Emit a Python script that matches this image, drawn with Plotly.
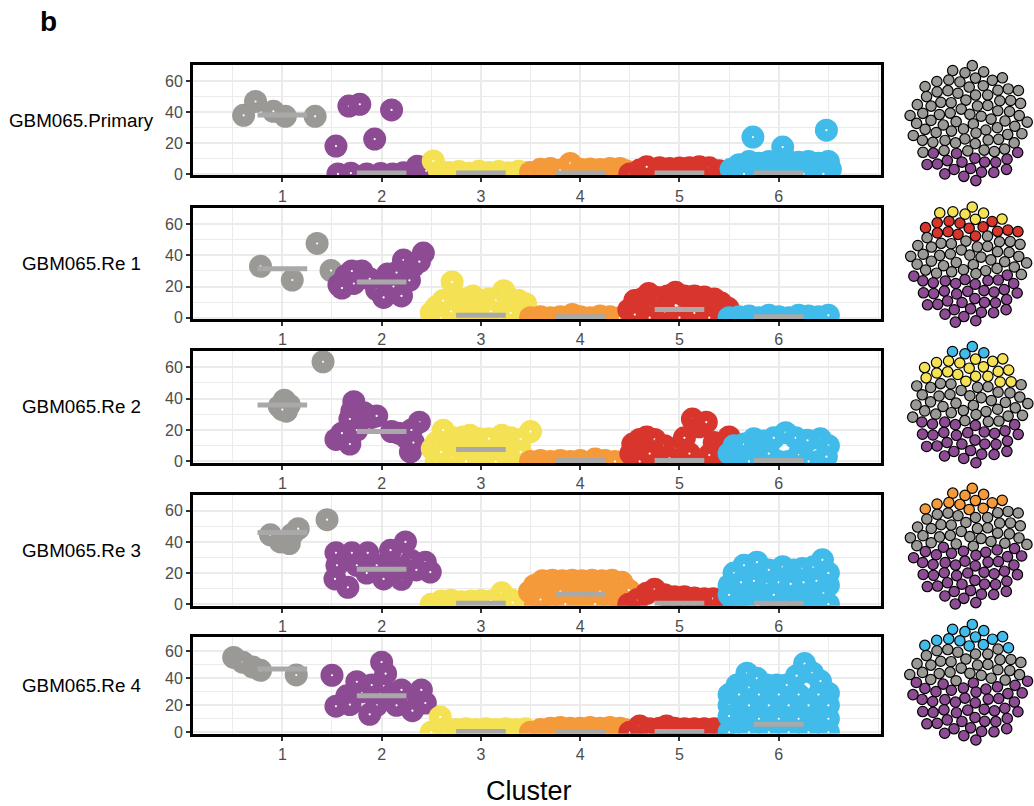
import math
import plotly.graph_objects as go

W, H = 1034, 806

# ---------------- data ----------------
clusters = [1, 2, 3, 4, 5, 6]
cluster_labels = ["1", "2", "3", "4", "5", "6"]
cluster_colors = ["#9A9995", "#8C4B93", "#F5E154", "#F59A3B", "#D8362D", "#41BBEA"]
samples = ["GBM065.Primary", "GBM065.Re 1", "GBM065.Re 2", "GBM065.Re 3", "GBM065.Re 4"]
y_ticks = [0, 20, 40, 60]

# (cluster, jitter offset, value)
primary_cells = [
    (1, -0.39, 38.0), (1, -0.27, 47.0), (1, -0.09, 40.6), (1, 0.03, 37.4), (1, 0.33, 37.4),
    (2, -0.44, 0.0), (2, -0.31, 0.5), (2, -0.15, 0.0), (2, -0.01, 0.3), (2, 0.11, 0.0), (2, 0.22, 0.8),
    (2, 0.36, 5.0), (2, 0.45, 2.0),
    (2, -0.33, 44.0), (2, -0.22, 45.2), (2, 0.10, 41.5), (2, -0.46, 18.1), (2, -0.07, 22.6),
    (3, -0.42, 2.0), (3, -0.32, 1.0), (3, -0.22, 1.5), (3, -0.12, 0.5), (3, -0.02, 1.8), (3, 0.08, 1.0),
    (3, 0.18, 1.6), (3, 0.28, 0.8), (3, 0.38, 1.8), (3, 0.46, 1.0), (3, -0.48, 8.4),
    (4, -0.50, 1.0), (4, -0.40, 3.0), (4, -0.30, 3.5), (4, -0.20, 2.5), (4, -0.10, 6.8), (4, 0.00, 3.0),
    (4, 0.10, 3.2), (4, 0.20, 2.8), (4, 0.30, 3.5), (4, 0.40, 3.6), (4, 0.46, 2.0),
    (5, -0.50, 0.0), (5, -0.40, 2.5), (5, -0.33, 4.6), (5, -0.20, 4.0), (5, -0.10, 3.5), (5, 0.00, 3.8),
    (5, 0.10, 4.0), (5, 0.20, 4.6), (5, 0.30, 4.0), (5, 0.40, 2.0), (5, 0.48, 1.0),
    (6, -0.26, 23.9), (6, 0.04, 17.4), (6, 0.48, 28.4),
    (6, -0.48, 3.0), (6, -0.40, 6.0), (6, -0.30, 8.0), (6, -0.20, 7.0), (6, -0.10, 8.0), (6, 0.00, 6.0),
    (6, 0.10, 8.0), (6, 0.20, 7.5), (6, 0.30, 8.0), (6, 0.40, 7.0), (6, 0.50, 8.0), (6, 0.52, 3.0),
    (6, -0.35, 0.0), (6, -0.15, 0.0), (6, 0.05, 0.0), (6, 0.25, 0.0), (6, 0.45, 0.0),
]
re1_cells = [
    (1, -0.22, 33.0), (1, 0.35, 47.7), (1, 0.10, 24.2), (1, 0.49, 30.3),
    (2, -0.43, 21.0), (2, -0.36, 27.0), (2, -0.28, 22.0), (2, -0.20, 30.0), (2, -0.12, 25.0), (2, -0.05, 18.0),
    (2, 0.02, 13.0), (2, 0.06, 28.0), (2, 0.12, 20.0), (2, 0.20, 14.0), (2, 0.22, 37.0), (2, 0.28, 24.0),
    (2, 0.32, 33.0), (2, 0.42, 41.5), (2, 0.38, 36.0), (2, -0.30, 30.0), (2, 0.15, 29.0), (2, -0.40, 19.0),
    (3, -0.50, 3.0), (3, -0.45, 7.0), (3, -0.38, 11.0), (3, -0.29, 23.0), (3, -0.22, 12.0), (3, -0.15, 11.0),
    (3, -0.08, 14.0), (3, 0.00, 11.0), (3, 0.08, 12.0), (3, 0.15, 11.0), (3, 0.23, 17.3), (3, 0.30, 12.0),
    (3, 0.38, 11.0), (3, 0.45, 9.0), (3, 0.47, 3.0),
    (3, -0.40, 0.0), (3, -0.25, 0.0), (3, -0.10, 1.0), (3, 0.05, 0.0), (3, 0.20, 0.0), (3, 0.35, 1.0),
    (3, -0.30, 4.0), (3, 0.10, 4.0), (3, 0.30, 3.0),
    (4, -0.50, 0.0), (4, -0.40, 0.5), (4, -0.30, 0.0), (4, -0.20, 0.5), (4, -0.08, 2.0), (4, 0.00, 0.5),
    (4, 0.10, 0.0), (4, 0.20, 1.0), (4, 0.30, 0.5), (4, 0.40, 0.0),
    (5, -0.51, 5.0), (5, -0.45, 11.0), (5, -0.38, 12.0), (5, -0.31, 15.5), (5, -0.22, 13.0), (5, -0.12, 14.0),
    (5, -0.04, 16.3), (5, 0.05, 14.0), (5, 0.15, 14.0), (5, 0.25, 13.3), (5, 0.35, 12.0), (5, 0.42, 9.4),
    (5, 0.49, 6.0),
    (5, -0.45, 2.0), (5, -0.30, 0.0), (5, -0.15, 4.0), (5, 0.00, 0.0), (5, 0.15, 3.0), (5, 0.30, 0.0),
    (5, 0.45, 1.0),
    (6, -0.50, 0.0), (6, -0.40, 0.5), (6, -0.30, 1.0), (6, -0.20, 0.0), (6, -0.10, 1.5), (6, 0.00, 0.5),
    (6, 0.10, 0.0), (6, 0.20, 1.5), (6, 0.30, 1.0), (6, 0.40, 0.5), (6, 0.50, 1.5),
]
re2_cells = [
    (1, -0.03, 35.0), (1, 0.02, 39.0), (1, 0.07, 36.0), (1, 0.04, 32.0), (1, 0.00, 33.0), (1, 0.41, 63.5),
    (2, -0.28, 38.0), (2, -0.30, 32.0), (2, -0.32, 27.0), (2, -0.18, 31.0), (2, -0.10, 28.0), (2, -0.05, 29.0),
    (2, -0.46, 14.0), (2, -0.40, 18.0), (2, -0.32, 11.0), (2, -0.25, 20.0), (2, 0.10, 19.0), (2, 0.17, 18.0),
    (2, 0.25, 15.0), (2, 0.38, 25.0), (2, 0.30, 20.0), (2, 0.29, 6.0), (2, 0.32, 12.0),
    (3, -0.49, 8.0), (3, -0.45, 12.0), (3, -0.38, 19.9), (3, -0.28, 15.0), (3, -0.18, 15.5), (3, -0.11, 16.6),
    (3, -0.02, 14.4), (3, 0.08, 14.5), (3, 0.21, 16.6), (3, 0.30, 15.0), (3, 0.40, 14.0), (3, 0.50, 19.0),
    (3, -0.45, 0.0), (3, -0.30, 3.0), (3, -0.15, 0.0), (3, 0.00, 5.0), (3, 0.15, 0.0), (3, 0.30, 4.0),
    (3, 0.45, 0.0), (3, -0.40, 6.0), (3, 0.20, 7.0), (3, -0.05, 8.0), (3, 0.40, 6.0),
    (4, -0.50, 0.0), (4, -0.40, 0.5), (4, -0.30, 0.0), (4, -0.20, 0.5), (4, -0.10, 0.0), (4, 0.00, 0.5),
    (4, 0.15, 1.5), (4, 0.25, 0.5), (4, 0.35, 0.0),
    (5, -0.49, 5.0), (5, -0.47, 11.0), (5, -0.40, 14.0), (5, -0.33, 15.6), (5, -0.25, 14.0), (5, -0.15, 10.0),
    (5, -0.05, 8.0), (5, 0.05, 15.0), (5, 0.13, 27.0), (5, 0.20, 22.0), (5, 0.27, 25.0), (5, 0.35, 12.0),
    (5, 0.45, 10.0), (5, 0.50, 15.6),
    (5, -0.40, 0.0), (5, -0.20, 0.0), (5, 0.00, 0.0), (5, 0.20, 0.0), (5, 0.40, 0.0), (5, -0.30, 5.0),
    (5, 0.10, 5.0), (5, 0.30, 4.0), (5, -0.10, 2.0), (5, 0.45, 3.0),
    (6, -0.50, 5.0), (6, -0.45, 10.0), (6, -0.35, 11.0), (6, -0.25, 14.4), (6, -0.15, 13.0), (6, -0.05, 15.0),
    (6, 0.07, 18.3), (6, 0.17, 15.0), (6, 0.29, 13.4), (6, 0.42, 14.4), (6, 0.50, 10.0),
    (6, -0.40, 0.0), (6, -0.20, 3.0), (6, 0.00, 0.0), (6, 0.20, 4.0), (6, 0.40, 0.0), (6, -0.30, 0.0),
    (6, 0.10, 0.0), (6, 0.30, 0.0), (6, -0.10, 5.0), (6, 0.48, 3.0),
]
re3_cells = [
    (1, -0.12, 44.6), (1, -0.02, 40.0), (1, 0.07, 39.0), (1, 0.10, 45.0), (1, 0.16, 48.5), (1, 0.45, 54.3),
    (2, -0.46, 33.0), (2, -0.30, 33.0), (2, -0.14, 33.0), (2, 0.09, 34.7), (2, 0.24, 40.0), (2, 0.44, 27.0),
    (2, 0.49, 20.6), (2, -0.47, 16.2), (2, -0.34, 10.8), (2, 0.02, 16.2), (2, 0.20, 16.0),
    (2, -0.45, 25.0), (2, -0.25, 25.0), (2, -0.05, 25.0), (2, 0.10, 26.0), (2, 0.30, 28.0), (2, 0.35, 22.0),
    (2, -0.15, 20.0), (2, 0.15, 22.0),
    (3, -0.50, 0.0), (3, -0.40, 2.0), (3, -0.30, 2.5), (3, -0.20, 1.5), (3, -0.10, 2.0), (3, 0.00, 2.4),
    (3, 0.10, 2.0), (3, 0.21, 7.3), (3, 0.30, 3.0), (3, 0.32, 1.0),
    (4, -0.51, 8.0), (4, -0.46, 12.0), (4, -0.38, 15.0), (4, -0.28, 15.4), (4, -0.18, 15.0), (4, -0.08, 15.4),
    (4, 0.02, 15.0), (4, 0.12, 15.4), (4, 0.22, 15.0), (4, 0.32, 15.4), (4, 0.42, 14.0), (4, 0.49, 9.0),
    (4, -0.45, 0.0), (4, -0.30, 5.0), (4, -0.15, 0.0), (4, 0.00, 6.0), (4, 0.15, 0.0), (4, 0.30, 5.0),
    (4, 0.45, 0.0), (4, -0.20, 8.0), (4, 0.20, 8.0), (4, -0.40, 3.0), (4, 0.40, 3.0),
    (5, -0.51, 0.0), (5, -0.42, 3.0), (5, -0.33, 7.0), (5, -0.25, 9.5), (5, -0.15, 6.0), (5, -0.05, 4.7),
    (5, 0.05, 4.7), (5, 0.15, 4.0), (5, 0.25, 3.5), (5, 0.34, 3.5), (5, 0.45, 2.0),
    (6, -0.45, 20.0), (6, -0.35, 25.0), (6, -0.22, 27.0), (6, -0.10, 22.0), (6, 0.04, 24.0), (6, 0.15, 22.0),
    (6, 0.24, 23.0), (6, 0.35, 24.0), (6, 0.44, 28.5), (6, 0.50, 20.0),
    (6, -0.50, 12.0), (6, -0.38, 14.0), (6, -0.25, 15.0), (6, -0.12, 13.0), (6, 0.00, 14.0), (6, 0.12, 13.0),
    (6, 0.25, 14.0), (6, 0.38, 15.0), (6, 0.50, 12.0),
    (6, -0.45, 0.0), (6, -0.30, 5.0), (6, -0.15, 6.0), (6, 0.00, 0.0), (6, 0.15, 5.0), (6, 0.30, 3.0),
    (6, 0.45, 7.0), (6, -0.40, 4.0), (6, 0.20, 0.0), (6, -0.05, 6.0), (6, 0.40, 0.0), (6, 0.50, 0.0),
    (6, -0.50, 6.0),
]
re4_cells = [
    (1, -0.49, 55.5), (1, -0.40, 52.0), (1, -0.30, 48.5), (1, -0.22, 46.0), (1, 0.14, 42.5),
    (2, -0.20, 30.0), (2, -0.10, 35.0), (2, 0.10, 28.0), (2, 0.25, 24.0), (2, -0.05, 20.0), (2, 0.15, 20.0),
    (2, -0.35, 27.0),
    (2, -0.50, 42.3), (2, 0.00, 52.0), (2, -0.25, 37.5), (2, 0.04, 43.5), (2, 0.40, 31.4), (2, 0.20, 31.4),
    (2, -0.46, 19.3), (2, -0.32, 20.5), (2, -0.12, 13.3), (2, 0.31, 16.0), (2, 0.44, 21.7),
    (3, -0.50, 0.0), (3, -0.35, 2.5), (3, -0.25, 2.0), (3, -0.15, 2.5), (3, -0.05, 2.0), (3, 0.05, 2.5),
    (3, 0.15, 2.0), (3, 0.25, 2.5), (3, 0.35, 2.0), (3, 0.45, 2.5), (3, -0.41, 11.4),
    (4, -0.50, 0.0), (4, -0.40, 2.0), (4, -0.30, 3.0), (4, -0.20, 3.5), (4, -0.10, 3.0), (4, 0.00, 3.0),
    (4, 0.10, 3.5), (4, 0.20, 3.0), (4, 0.30, 3.5), (4, 0.40, 3.0), (4, 0.45, 2.0),
    (5, -0.50, 0.0), (5, -0.40, 4.7), (5, -0.30, 2.5), (5, -0.20, 3.0), (5, -0.13, 4.7), (5, -0.05, 3.0),
    (5, 0.05, 2.5), (5, 0.15, 2.5), (5, 0.25, 2.5), (5, 0.35, 2.5), (5, 0.45, 2.0),
    (6, -0.50, 28.0), (6, -0.42, 35.0), (6, -0.32, 43.8), (6, -0.22, 40.0), (6, -0.12, 35.0), (6, -0.02, 35.0),
    (6, 0.08, 35.0), (6, 0.18, 42.0), (6, 0.26, 51.0), (6, 0.34, 44.0), (6, 0.42, 38.0), (6, 0.50, 29.0),
    (6, -0.40, 28.0), (6, -0.20, 28.0), (6, 0.00, 28.0), (6, 0.20, 28.0), (6, 0.40, 28.0),
    (6, -0.50, 20.0), (6, -0.30, 20.0), (6, -0.10, 20.0), (6, 0.10, 20.0), (6, 0.30, 20.0), (6, 0.50, 20.0),
    (6, -0.40, 10.0), (6, -0.20, 10.0), (6, 0.00, 10.0), (6, 0.20, 10.0), (6, 0.40, 10.0),
    (6, -0.50, 0.0), (6, -0.30, 0.0), (6, -0.10, 0.0), (6, 0.10, 0.0), (6, 0.30, 0.0), (6, 0.50, 0.0),
    (6, -0.50, 12.0), (6, 0.50, 10.0),
]

medians_primary = [38.3, 0.6, 0.6, 0.6, 0.6, 0.6]
medians_re1 = [31.4, 23.0, 1.5, 0.6, 5.2, 0.6]
medians_re2 = [36.0, 19.0, 7.5, 0.6, 0.6, 0.6]
medians_re3 = [46.0, 22.5, 0.6, 6.5, 0.6, 0.6]
medians_re4 = [47.0, 27.0, 0.6, 0.6, 0.6, 6.0]

# clone composition (top to bottom) for the packed-circle diagrams
pack_clusters = [[1, 2], [3, 5, 1, 2], [6, 3, 1, 2], [4, 1, 2], [6, 1, 2]]
pack_counts = [[76, 19], [7, 14, 39, 37], [4, 20, 38, 31], [13, 36, 47], [14, 31, 49]]

all_cells = [primary_cells, re1_cells, re2_cells, re3_cells, re4_cells]
all_medians = [medians_primary, medians_re1, medians_re2, medians_re3, medians_re4]

# ---------------- layout geometry (pixels) ----------------
panel_top = [66, 210, 354, 499, 643]
panel_bot = [177, 322, 467, 611, 740]
plot_left, plot_right = 193, 881
pack_cx = 969
pack_cy = [125, 267, 409, 551, 689]
pack_radius = 60.0

FONT = "Liberation Sans, Arial, Helvetica, sans-serif"
GRID = "#EBEBEB"

fig = go.Figure()

for i in range(5):
    xa = "x" if i == 0 else f"x{i+1}"
    ya = "y" if i == 0 else f"y{i+1}"
    cells = all_cells[i]
    for ci, c in enumerate(clusters):
        xs, ys, sizes, cols = [], [], [], []
        for (cc, dx, v) in cells:
            if cc != c:
                continue
            xs += [c + dx, c + dx]
            ys += [v, v]
            sizes += [23, 2.2]
            cols += [cluster_colors[ci], "white"]
        fig.add_trace(go.Scatter(
            x=xs, y=ys, mode="markers", xaxis=xa, yaxis=ya,
            marker=dict(size=sizes, color=cols, line=dict(width=0), opacity=1),
            showlegend=False, hoverinfo="skip"))
    mx, my = [], []
    for c, m in zip(clusters, all_medians[i]):
        mx += [c - 0.25, c + 0.25, None]
        my += [m, m, None]
    fig.add_trace(go.Scatter(
        x=mx, y=my, mode="lines", xaxis=xa, yaxis=ya,
        line=dict(color="#A9A9A9", width=5), showlegend=False, hoverinfo="skip"))

    axis_common = dict(
        showline=True, mirror=True, linecolor="black", linewidth=3,
        ticks="outside", ticklen=4, tickwidth=2, tickcolor="#333333",
        tickfont=dict(family=FONT, size=16, color="#4D4D4D"),
        showgrid=True, gridcolor=GRID, gridwidth=2, zeroline=False,
        fixedrange=True,
    )
    fig.layout[f"xaxis{'' if i == 0 else i+1}"] = dict(
        axis_common, domain=[plot_left / W, plot_right / W], anchor=ya,
        range=[0.1, 7.03], tickmode="array", tickvals=clusters, ticktext=cluster_labels,
        minor=dict(dtick=0.5, tick0=0.5, showgrid=True, gridcolor=GRID, gridwidth=1.3, ticks=""),
    )
    fig.layout[f"yaxis{'' if i == 0 else i+1}"] = dict(
        axis_common, domain=[1 - panel_bot[i] / H, 1 - panel_top[i] / H], anchor=xa,
        range=[-1.0, 70.4], tickmode="array", tickvals=y_ticks,
        minor=dict(dtick=10, tick0=0, showgrid=True, gridcolor=GRID, gridwidth=1.3, ticks=""),
    )

# packed circles: sunflower (Vogel) layout, filled top to bottom by clone
golden = math.pi * (3 - math.sqrt(5))

def disc_positions(cx, cy, n, R):
    c = R / math.sqrt(n)
    pts = []
    for k in range(n):
        r = c * math.sqrt(k + 0.5)
        t = k * golden
        pts.append((cx + r * math.cos(t), cy + r * math.sin(t)))
    pts.sort(key=lambda p: (p[1], p[0]))
    return pts

for i in range(5):
    n = sum(pack_counts[i])
    pts = disc_positions(pack_cx, pack_cy[i], n, pack_radius)
    cols = []
    for cl, cnt in zip(pack_clusters[i], pack_counts[i]):
        cols += [cluster_colors[cl - 1]] * cnt
    fig.add_trace(go.Scatter(
        x=[p[0] for p in pts], y=[p[1] for p in pts], mode="markers",
        xaxis="x6", yaxis="y6",
        marker=dict(size=10.4, color=cols, line=dict(color="black", width=1.2)),
        showlegend=False, hoverinfo="skip"))

fig.layout["xaxis6"] = dict(domain=[890 / W, 1.0], range=[890, 1034], visible=False,
                            fixedrange=True, anchor="y6")
fig.layout["yaxis6"] = dict(domain=[0, 1], range=[806, 0], visible=False,
                            fixedrange=True, anchor="x6")

annotations = []
for i, s in enumerate(samples):
    yc = (panel_top[i] + panel_bot[i]) / 2
    annotations.append(dict(x=81 / W, y=1 - yc / H, xref="paper", yref="paper",
                            text=s, showarrow=False, xanchor="center", yanchor="middle",
                            font=dict(family=FONT, size=18.8, color="black")))
annotations.append(dict(x=529 / W, y=1 - 797.5 / H, xref="paper", yref="paper", text="Cluster",
                        showarrow=False, xanchor="center", yanchor="middle",
                        font=dict(family=FONT, size=27, color="black")))
annotations.append(dict(x=48 / W, y=1 - 22 / H, xref="paper", yref="paper", text="<b>b</b>",
                        showarrow=False, xanchor="center", yanchor="middle",
                        font=dict(family=FONT, size=28, color="black")))

fig.update_layout(
    width=W, height=H, margin=dict(l=0, r=0, t=0, b=0),
    paper_bgcolor="white", plot_bgcolor="white",
    annotations=annotations, hovermode=False, showlegend=False,
    font=dict(family=FONT),
)

fig.write_html("out.html", post_script="document.body.style.margin='0';",
               config={"displayModeBar": False})
